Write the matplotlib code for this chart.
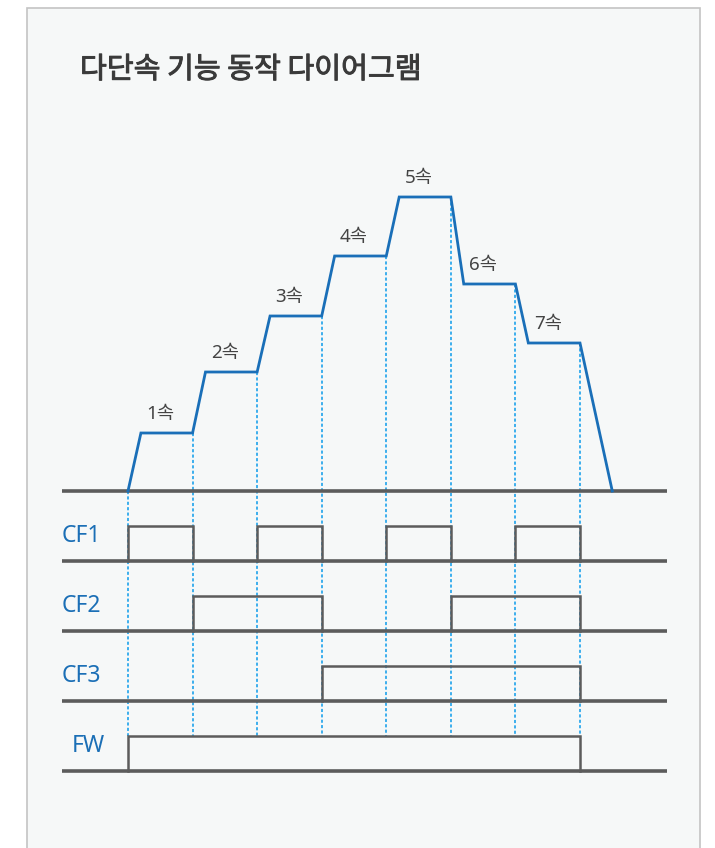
import matplotlib
matplotlib.use('Agg')
import matplotlib.pyplot as plt
import matplotlib.patheffects as pe
from matplotlib.patches import Rectangle

plt.rcParams['font.family'] = ['Noto Sans CJK KR', 'DejaVu Sans']

# ---------------- data ----------------
TITLE = '다단속 기능 동작 다이어그램'
speed_labels = ['1속', '2속', '3속', '4속', '5속', '6속', '7속']
speed_levels = [58, 119, 175, 235, 294, 207, 148]      # relative speed
switch_times = [0, 1, 2, 3, 4, 5, 6, 7]                 # step change instants
ramp_time = 0.2
stop_ramp = 0.5
signal_names = ['CF1', 'CF2', 'CF3', 'FW']
CF1 = [1, 0, 1, 0, 1, 0, 1]
CF2 = [0, 1, 1, 0, 0, 1, 1]
CF3 = [0, 0, 0, 1, 1, 1, 1]
FW = [1, 1, 1, 1, 1, 1, 1]
signals = [CF1, CF2, CF3, FW]

# ---------------- layout ----------------
W, H = 715, 848
DPI = 100
X0_PX, UNIT_PX = 128, 64.57
speed_base = 491
sig_bases = [561, 631, 701, 771]
sig_high = 35
LINE_GRAY = '#5c5c5c'

fig = plt.figure(figsize=(W / DPI, H / DPI), dpi=DPI)
fig.patch.set_facecolor('white')
panel = Rectangle((27 / W, -0.05), (700 - 27) / W, 1.05 - 8 / H,
                  transform=fig.transFigure, facecolor='#f6f8f8',
                  edgecolor='#c4c4c4', linewidth=1.2, zorder=-5)
fig.patches.append(panel)

ax = fig.add_axes([0, 0, 1, 1], zorder=2)
ax.set_axis_off()
ax.patch.set_alpha(0)
ax.set_xlim(-X0_PX / UNIT_PX, (W - X0_PX) / UNIT_PX)
ax.set_ylim(H, 0)

def px2t(px):
    return (px - X0_PX) / UNIT_PX

# speed baseline
ax.plot([px2t(62), px2t(667)], [speed_base, speed_base], color=LINE_GRAY,
        lw=2.6, solid_capstyle='butt', zorder=3)

# speed profile
xs, ys = [switch_times[0]], [speed_base]
for i, lvl in enumerate(speed_levels):
    xs += [switch_times[i] + ramp_time, switch_times[i + 1]]
    ys += [speed_base - lvl, speed_base - lvl]
xs.append(switch_times[-1] + stop_ramp)
ys.append(speed_base)
ax.plot(xs, ys, color='#1a6fb8', lw=2.0, solid_joinstyle='miter', zorder=4)

# speed labels
for i, (lab, lvl) in enumerate(zip(speed_labels, speed_levels)):
    cx = (switch_times[i] + ramp_time + switch_times[i + 1]) / 2 - 0.1
    ax.text(cx, speed_base - lvl - 19, lab, ha='center', va='center',
            fontsize=13.5, color='#444444', zorder=5,
            family=['Noto Sans', 'Noto Sans CJK KR'])

# dotted guide lines
fw_top = sig_bases[-1] - sig_high
for i, t in enumerate(switch_times):
    top = speed_base - (speed_levels[i - 1] if i > 0 else 0)
    ax.plot([t, t], [top, fw_top], color='#26a6ec', lw=1.25,
            linestyle=(0, (1.8, 1.3)), zorder=1)

# signals
label_x = [62, 62, 62, 72]
for name, states, base, lx in zip(signal_names, signals, sig_bases, label_x):
    ax.plot([px2t(62), px2t(667)], [base, base], color=LINE_GRAY, lw=2.6,
            solid_capstyle='butt', zorder=3)
    i = 0
    n = len(states)
    while i < n:
        if states[i]:
            j = i
            while j + 1 < n and states[j + 1]:
                j += 1
            a, b = switch_times[i], switch_times[j + 1]
            ax.plot([a, a, b, b], [base, base - sig_high, base - sig_high, base],
                    color=LINE_GRAY, lw=1.8, solid_joinstyle='miter', zorder=3)
            i = j + 1
        else:
            i += 1
    ax.text(px2t(lx), base - 25, name, ha='left', va='center', fontsize=16.5,
            color='#1b6fb6', zorder=5, family=['Noto Sans', 'DejaVu Sans'])

# title
fig.text(80 / W, 1 - 70 / H, TITLE, ha='left', va='center', fontsize=21,
         color='#3a3a3a', zorder=5,
         path_effects=[pe.withStroke(linewidth=0.7, foreground='#3a3a3a')])

fig.savefig('out.png', dpi=DPI, facecolor=fig.get_facecolor())
